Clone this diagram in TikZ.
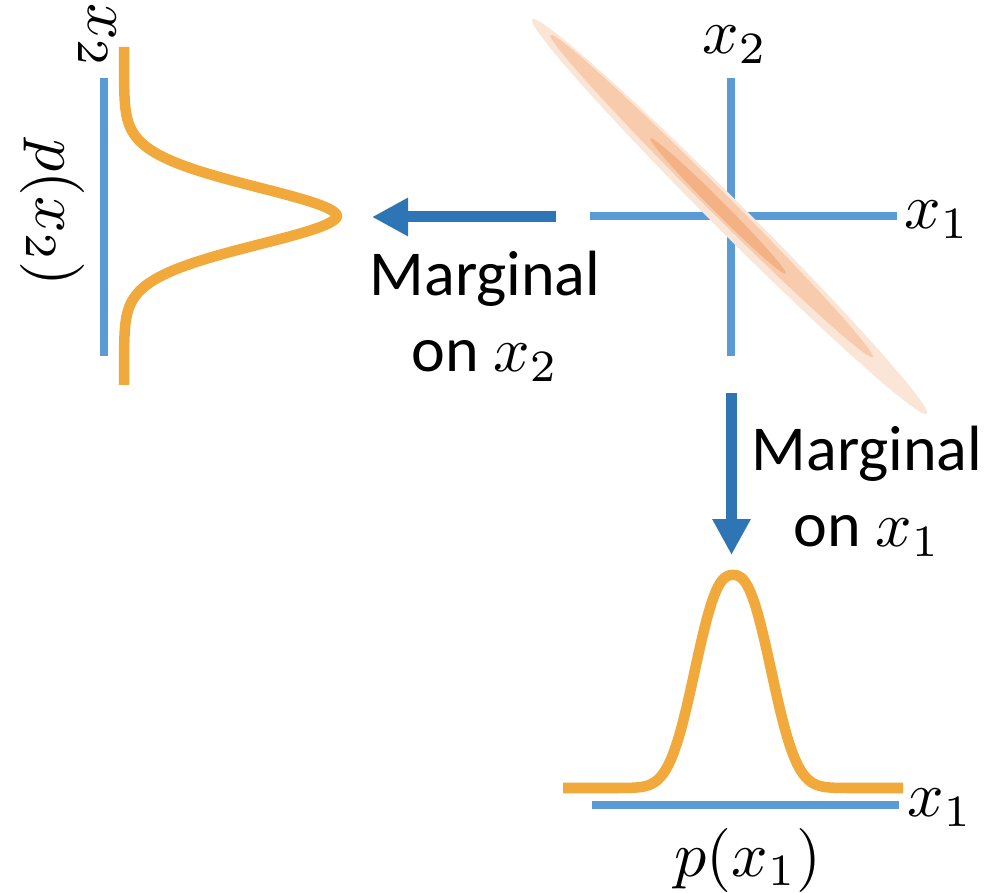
\documentclass[tikz,border=0pt]{standalone}
\usepackage{graphicx}
\usepackage{fontspec}
\setmainfont{Carlito}
\usetikzlibrary{arrows.meta}
\definecolor{axisblue}{HTML}{5B9BD5}
\definecolor{arrowblue}{HTML}{2E75B6}
\definecolor{gold}{HTML}{F2A93B}
\definecolor{ellA}{HTML}{FBE5D6}
\definecolor{ellB}{HTML}{F8CBAD}
\definecolor{ellC}{HTML}{F4B183}
\newcommand{\mlabel}[1]{\scalebox{6.4}{\fontsize{10}{12}\selectfont$#1$}}
\begin{document}
\begin{tikzpicture}[x=1pt,y=-1pt,
  axisline/.style={axisblue, line width=7.5pt},
  curve/.style={gold, line width=10.5pt, line join=round},
  bigarrow/.style={arrowblue, line width=11pt, -{Triangle[length=36pt,width=36pt]}},
  lbl/.style={font=\fontsize{64}{76}\selectfont, inner sep=0pt},
  mlbl/.style={inner sep=0pt}]
\useasboundingbox (0,0) rectangle (994,893);

% main axes
\coordinate (hL) at (590,216); \coordinate (hR) at (897,216);
\coordinate (vT) at (731,78); \coordinate (vB) at (731,356);
\draw[axisline] (hL) -- (hR);
\draw[axisline] (vT) -- (vB);
% joint density contours
\fill[ellA, rotate around={-45:(729.5,216.5)}] (729.5,216.5) ellipse [x radius=279pt, y radius=16pt];
\fill[ellB, rotate around={-45:(711.5,196)}] (711.5,196) ellipse [x radius=228pt, y radius=11pt];
\fill[ellC, rotate around={-45:(718,206)}] (718,206) ellipse [x radius=96pt, y radius=6pt];
\node[mlbl] (lx2) at (735,45) {\mlabel{x_2}};
\node[mlbl] (lx1) at (937,220) {\mlabel{x_1}};

% left marginal
\coordinate (lT) at (104,78); \coordinate (lB) at (104,356);
\draw[axisline] (lT) -- (lB);
\draw[curve] plot[domain=-169:169, samples=200] ({124+213*exp(-pow((abs(\x)+0.01)/44,1.8))}, {216+\x});
\node[mlbl, rotate=-90] (lpx2) at (52,213) {\mlabel{p(x_2)}};
\node[mlbl, rotate=-90] (lx2b) at (97,36) {\mlabel{x_2}};

% bottom marginal
\coordinate (bL) at (592,805); \coordinate (bR) at (899,805);
\draw[axisline] (bL) -- (bR);
\draw[curve] plot[domain=-170:170, samples=200] ({733+\x}, {788-213*exp(-pow((abs(\x)+0.01)/47,2.5))});
\node[mlbl] (bx1) at (940,808) {\mlabel{x_1}};
\node[mlbl] (px1) at (748,860) {\mlabel{p(x_1)}};

% arrows
\coordinate (a1s) at (556,217); \coordinate (a1e) at (372,217);
\draw[bigarrow] (a1s) -- (a1e);
\coordinate (a2s) at (731.5,393); \coordinate (a2e) at (731.5,555);
\draw[bigarrow] (a2s) -- (a2e);
\node[lbl, align=center] (t1) at (485,316) {Marginal\\on \mlabel{x_2}};
\node[lbl, align=center] (t2) at (867,491) {Marginal\\on \mlabel{x_1}};
\end{tikzpicture}
\end{document}
